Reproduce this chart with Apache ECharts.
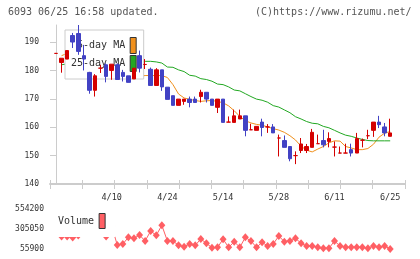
<!DOCTYPE html>
<html><head><meta charset="utf-8">
<script src="https://cdn.jsdelivr.net/npm/echarts@6/dist/echarts.min.js"></script>
<style>html,body{margin:0;padding:0;background:#fff}#c{width:420px;height:259px}</style>
</head><body><div id="c"></div>
<script>
const titleText = '6093 06/25 16:58 updated.';
const copyText = '(C)https://www.rizumu.net/';
const dateTickIdx = [10, 20, 30, 40, 50, 60];
const dateTickLabels = ['4/10', '4/24', '5/14', '5/28', '6/11', '6/25'];
const priceTicks = [140, 150, 160, 170, 180, 190];
const volumeTicks = [55900, 305050, 554200];

const openP = [186,182.8,184,192.3,193,185.2,179.3,173,180.8,182,180,182,179.3,178.1,177,185.2,182.1,180.4,174.7,180.2,
  174.1,171.1,167.7,169.1,169.9,169.9,170.8,172.3,169.9,167,169.9,161.8,161.7,162.9,164,159.1,158.9,161.8,160.1,160.1,
  156.2,155.3,153.2,150,151.8,151.8,152.9,154.2,155.3,155,153,150.9,150.9,152.1,150.9,155.4,157,158.9,161.8,160.1,156.8];
const closeP = [186,184.3,187,190,186.7,184,173,178.1,180.8,177.9,182.2,176.8,177.9,175.8,180.8,180.8,182.1,174.7,180.2,174.2,
  169.8,167.7,169.9,169.9,168.7,168.7,172.3,169.9,167.7,169.9,161.7,161.8,164,164,158.9,159.1,160.3,159.9,160.1,158,
  156.2,152.9,148.9,150,154.1,153.2,158.2,154.2,153.8,156,153,150.9,150.9,150.9,156,155.4,157,161.8,160.9,158,158];
const lowP = [186,179.2,184,187.9,185.5,180,171.8,170.8,179.1,175.8,176.7,176.7,176.1,175.8,177,179.3,180.5,174.7,174.7,172.8,
  169.8,167.7,167.7,167.9,167,168.7,168.7,168.7,167.7,165,161.7,161.8,161.7,162.9,156.8,159.1,158.9,156.8,158,158,
  149.7,152.9,148,147,150.9,150.9,152.9,154.2,152.9,152.9,149.7,150.9,150.9,149.7,150.9,152.9,155.8,156.6,159.7,156.8,156.8];
const highP = [186,184.3,187,193.2,196,189,179.5,178.7,182,182.5,182.2,182.5,180.2,178.1,180.8,187,184,181,180.8,180.2,
  174.1,171.1,169.9,169.9,170.8,170.8,173.2,172.3,169.9,169.9,169.9,163.8,166.2,166.2,164,161.2,160.3,163,161.1,161.1,
  157.4,157.1,153.2,151.5,156.2,154.1,159.4,157.4,159.1,158.2,155,153.2,154.2,154.2,158,156,159.1,161.8,164,161.5,163];
const ma5 = [null,185.2,186.0,186.6,186.8,186.4,184.2,182.4,180.5,179.2,178.6,179.0,179.0,178.3,178.5,178.0,178.2,178.2,178.2,178.2,
  177.5,175.0,171.7,170.3,169.8,169.4,169.1,169.3,169.4,169.1,168.6,167.5,165.8,163.8,162.3,161.5,161.0,160.7,160.1,159.5,
  159.0,158.2,157.0,155.5,153.3,151.9,151.3,152.3,153.2,154.5,155.2,155.1,153.2,152.7,152.1,152.1,152.5,154.0,156.5,157.9,158.5];
const ma25 = [null,182.0,182.3,182.6,182.8,183.0,183.0,183.1,183.1,183.2,183.2,183.2,183.2,183.2,183.2,183.2,183.2,183.2,183.0,182.6,
  181.2,181.1,180.2,179.6,178.3,178.0,177.1,176.8,176.2,175.2,175.0,174.2,173.1,172.8,171.8,170.8,169.9,169.5,168.8,167.6,
  167.1,166.1,165.1,163.7,162.9,162.0,161.4,161.2,160.3,159.8,158.9,158.0,157.2,156.8,156.2,155.7,155.3,155.2,155.2,155.2,155.2];
const volume = [380000,211600,211600,199200,224100,420000,460000,400000,330000,211600,342000,105700,118200,201600,189200,230300,155600,280100,226600,351100,
  155600,155600,102000,84600,118200,102000,180500,126900,72100,77100,176700,77100,146800,77100,201600,155600,77100,139400,93300,118200,
  217800,146800,155600,189200,126900,93300,93300,77100,64600,64600,155600,93300,77100,77100,77100,77100,64600,93300,77100,93300,56000];

const XMIN = -1.077, XMAX = 62.66;
const FONT = 'DejaVu Sans Mono';
const AX = '#cccccc';
const C_UP = '#d40000', C_DN = '#4242c4', C_MA5 = '#f0901c', C_MA25 = '#22a822', C_VOL = '#ff5f64';

const candles = openP.map((o, i) => [i, o, closeP[i], lowP[i], highP[i]]);
const pair = arr => arr.map((v, i) => [i, v]);

const chart = echarts.init(document.getElementById('c'), null, {renderer: 'canvas'});
const tickAxis = (inside, len) => ({
  type: 'value', gridIndex: 0, position: 'bottom', min: 0, max: 11, interval: 1,
  axisLine: {show: false}, axisLabel: {show: false}, splitLine: {show: false},
  axisTick: {show: true, inside: inside, length: len, lineStyle: {color: AX, width: 1}}
});
chart.setOption({
  animation: false,
  backgroundColor: '#ffffff',
  title: [
    {text: titleText, left: 8, top: 7, padding: 0, textStyle: {fontFamily: FONT, fontSize: 10, color: '#555', fontWeight: 'normal'}},
    {text: copyText, left: 255, top: 7, padding: 0, textStyle: {fontFamily: FONT, fontSize: 10, color: '#555', fontWeight: 'normal'}}
  ],
  legend: [
    {data: ['5-day MA', '25-day MA'], left: 65, top: 30, orient: 'vertical', align: 'right',
     padding: [7, 7, 7, 6], itemGap: 1, itemWidth: 6, itemHeight: 16, icon: 'rect', selectedMode: false,
     backgroundColor: '#ffffff', borderColor: '#cccccc', borderWidth: 1,
     itemStyle: {borderColor: '#333', borderWidth: 1},
     textStyle: {fontFamily: FONT, fontSize: 10, color: '#333'}},
    {data: ['Volume'], left: 52, top: 207, orient: 'horizontal', align: 'right',
     padding: [6, 10, 8, 6], itemWidth: 6, itemHeight: 15, icon: 'rect', selectedMode: false,
     backgroundColor: '#ffffff', borderWidth: 0,
     itemStyle: {borderColor: '#333', borderWidth: 1},
     textStyle: {fontFamily: FONT, fontSize: 10, color: '#333'}}
  ],
  grid: [
    {left: 50, top: 25, width: 355, height: 159, outerBoundsMode: 'none', containLabel: false},
    {left: 50, top: 209, width: 355, height: 40, outerBoundsMode: 'none', containLabel: false}
  ],
  xAxis: [
    {type: 'value', gridIndex: 0, position: 'bottom', min: XMIN, max: XMAX,
     axisLine: {show: true, onZero: false, lineStyle: {color: AX, width: 2}},
     axisTick: {show: false}, splitLine: {show: false},
     axisLabel: {show: true, customValues: dateTickIdx, margin: 9,
       formatter: v => dateTickLabels[dateTickIdx.indexOf(Math.round(v))] || '',
       fontFamily: FONT, fontSize: 8.5, color: '#333'}},
    tickAxis(false, 5),
    tickAxis(true, 4),
    {type: 'value', gridIndex: 1, min: XMIN, max: XMAX, show: false}
  ],
  yAxis: [
    {type: 'value', gridIndex: 0, position: 'left', min: 140, max: 196,
     axisLine: {show: true, lineStyle: {color: AX, width: 1}},
     axisTick: {show: true, length: 5, customValues: priceTicks, lineStyle: {color: AX}},
     splitLine: {show: false},
     axisLabel: {customValues: priceTicks, margin: 11, formatter: v => String(v), fontFamily: FONT, fontSize: 8, color: '#333'}},
    {type: 'value', gridIndex: 0, position: 'left', min: 140, max: 196,
     axisLine: {show: false}, axisLabel: {show: false}, splitLine: {show: false},
     axisTick: {show: true, inside: true, length: 3, customValues: priceTicks, lineStyle: {color: AX}}},
    {type: 'value', gridIndex: 1, position: 'left', min: 55900, max: 554200,
     axisLine: {show: false}, axisTick: {show: false}, splitLine: {show: false},
     axisLabel: {customValues: volumeTicks, margin: 6, formatter: v => String(v), fontFamily: FONT, fontSize: 8, color: '#333'}}
  ],
  series: [
    {name: '5-day MA', type: 'line', xAxisIndex: 0, yAxisIndex: 0, data: pair(ma5), z: 2,
     symbol: 'none', color: C_MA5, lineStyle: {color: C_MA5, width: 1}},
    {name: '25-day MA', type: 'line', xAxisIndex: 0, yAxisIndex: 0, data: pair(ma25), z: 2,
     symbol: 'none', color: C_MA25, lineStyle: {color: C_MA25, width: 1}},
    {name: 'price', type: 'candlestick', xAxisIndex: 0, yAxisIndex: 0, data: candles, z: 6, barWidth: 4,
     itemStyle: {color: C_UP, color0: C_DN, borderColor: C_UP, borderColor0: C_DN, borderColorDoji: C_UP, borderWidth: 1}},
    {name: 'Volume', type: 'line', xAxisIndex: 3, yAxisIndex: 2, data: pair(volume), z: 2,
     symbol: 'diamond', symbolSize: [7, 8], showSymbol: true, showAllSymbol: true, color: C_VOL,
     itemStyle: {color: C_VOL}, lineStyle: {color: C_VOL, width: 1}}
  ]
});
</script>
</body></html>
